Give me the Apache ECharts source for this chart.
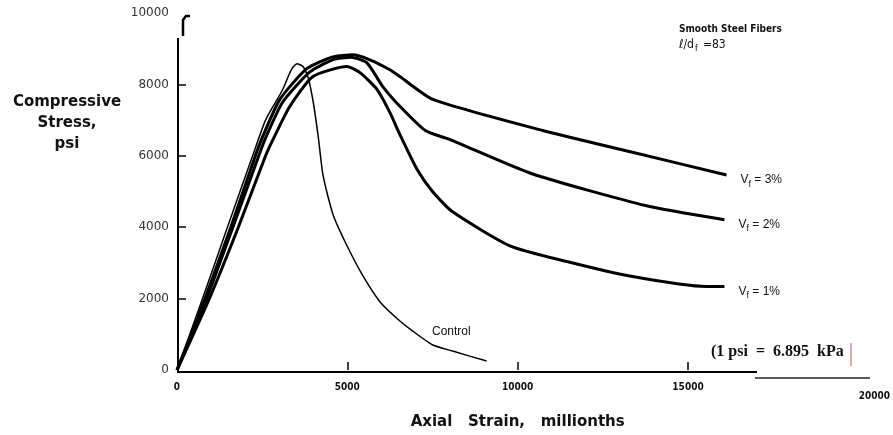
<!DOCTYPE html>
<html>
<head>
<meta charset="utf-8">
<script src="https://cdn.jsdelivr.net/npm/echarts@6/dist/echarts.min.js"></script>
<style>
  html, body { margin: 0; padding: 0; background: #fff; }
  #main { width: 893px; height: 435px; }
</style>
</head>
<body>
<div id="main"></div>
<script>
// strain (millionths), stress (psi)
var controlPts = [[0,0],[750,2000],[1480,4000],[2220,6000],[2600,7000],[3100,7850],[3350,8400],[3520,8580],
  [3700,8500],[3840,8220],[4000,7500],[4150,6500],[4270,5550],[4400,4980],[4600,4300],[4990,3480],
  [5450,2650],[5950,1920],[6450,1450],[6920,1090],[7510,700],[8090,530],[9090,250]];
var vf3Pts = [[0,0],[820,2000],[1580,4000],[2300,6000],[2520,6550],[3020,7580],[3810,8440],[4570,8770],
  [5160,8830],[5660,8690],[6250,8410],[6540,8220],[7510,7580],[10730,6710],[13370,6100],[16130,5460]];
var vf2Pts = [[0,0],[870,2000],[1640,4000],[2400,6000],[2600,6500],[3100,7500],[3900,8350],[4600,8700],
  [5100,8760],[5570,8610],[6040,7940],[6600,7330],[7300,6700],[8000,6460],[10440,5490],[13780,4600],[16070,4210]];
var vf1Pts = [[0,0],[950,2000],[1800,4000],[2600,6000],[2820,6460],[3310,7380],[3990,8220],[4990,8500],
  [5370,8330],[5870,7860],[6250,7210],[6540,6600],[7040,5630],[7500,5000],[8090,4430],[9770,3480],
  [11440,3040],[13370,2620],[15540,2340],[16070,2340]];
var seriesNames = ['3%', '2%', '1%'];
var xTicks = [0, 5000, 10000, 15000, 20000];
var yTicks = [0, 2000, 4000, 6000, 8000, 10000];

var chart = echarts.init(document.getElementById('main'));

function fiberLine(name, pts) {
  return {
    name: name,
    type: 'line',
    data: pts,
    smooth: 0.2,
    symbol: 'none',
    lineStyle: { color: '#000', width: 3 },
    endLabel: {
      show: true,
      distance: 14,
      offset: [0, 5],
      formatter: function () { return '{v|V}{s|f}{v| = ' + name + '}'; },
      rich: {
        v: { fontFamily: 'Liberation Sans', fontSize: 12, color: '#111' },
        s: { fontFamily: 'Liberation Sans', fontSize: 9, color: '#111', padding: [8, 0, 0, 0] }
      }
    }
  };
}

chart.setOption({
  animation: false,
  backgroundColor: '#fff',
  grid: { left: 177, right: 33, top: 13, bottom: 63 },
  xAxis: {
    type: 'value',
    min: xTicks[0],
    max: xTicks[xTicks.length - 1],
    interval: 5000,
    name: 'Axial   Strain,   millionths',
    nameLocation: 'middle',
    nameGap: 45,
    nameTextStyle: { fontFamily: 'DejaVu Sans', fontWeight: 'bold', fontSize: 15, color: '#111' },
    axisLine: { show: false },
    axisTick: { show: true, inside: true, length: 8, customValues: [5000, 10000, 15000], lineStyle: { color: '#000', width: 1.5 } },
    splitLine: { show: false },
    axisLabel: {
      margin: 12,
      fontFamily: 'DejaVu Sans Condensed',
      fontWeight: 'bold',
      fontSize: 10,
      color: '#111',
      formatter: function (v) { return v === 20000 ? '{far|' + v + '}' : String(v); },
      rich: { far: { fontFamily: 'DejaVu Sans Condensed', fontWeight: 'bold', fontSize: 10, color: '#111', padding: [9, 0, 0, 32] } }
    }
  },
  yAxis: {
    type: 'value',
    min: yTicks[0],
    max: yTicks[yTicks.length - 1],
    interval: 2000,
    axisLine: { show: false },
    axisTick: { show: true, inside: true, length: 9, customValues: [2000, 4000, 6000, 8000], lineStyle: { color: '#000', width: 1.5 } },
    splitLine: { show: false },
    axisLabel: {
      margin: 8,
      fontFamily: 'DejaVu Sans',
      fontSize: 12,
      color: '#333',
      formatter: function (v) { return String(v); }
    }
  },
  series: [
    fiberLine(seriesNames[0], vf3Pts),
    fiberLine(seriesNames[1], vf2Pts),
    fiberLine(seriesNames[2], vf1Pts),
    {
      name: 'Control',
      type: 'line',
      data: controlPts,
      smooth: 0.2,
      symbol: 'none',
      lineStyle: { color: '#000', width: 1.5 }
    }
  ],
  graphic: [
    {
      type: 'text', x: 67, y: 92,
      style: {
        text: 'Compressive\nStress,\npsi', align: 'center',
        fontFamily: 'DejaVu Sans', fontWeight: 'bold', fontSize: 15, lineHeight: 21, fill: '#111'
      }
    },
    {
      type: 'text', left: 432, top: 326,
      style: { text: 'Control', fontFamily: 'Liberation Sans', fontSize: 12, fill: '#111' }
    },
    {
      type: 'text', left: 679, top: 24,
      style: {
        text: '{b|Smooth Steel Fibers}\n{l|ℓ/d}{s|f}{l| =83}',
        rich: {
          b: { fontFamily: 'DejaVu Sans Condensed', fontWeight: 'bold', fontSize: 10, fill: '#111', lineHeight: 15 },
          l: { fontFamily: 'DejaVu Sans Condensed', fontSize: 12, fill: '#111', lineHeight: 15 },
          s: { fontFamily: 'Liberation Sans', fontSize: 9, fill: '#111', padding: [8, 2, 0, 1] }
        }
      }
    },
    {
      type: 'text', left: 711, top: 344,
      style: { text: '(1 psi  =  6.895  kPa', fontFamily: 'Liberation Serif', fontWeight: 'bold', fontSize: 16, fill: '#111' }
    },
    { type: 'line', shape: { x1: 851, y1: 343, x2: 851, y2: 366 }, style: { stroke: '#c55', lineWidth: 1 } },
    // axes as printed in the source figure: stress axis stops short, baseline is broken
    { type: 'line', shape: { x1: 178, y1: 38, x2: 178, y2: 373 }, style: { stroke: '#000', lineWidth: 2 } },
    { type: 'polyline', shape: { points: [[183, 36], [183, 20], [186, 16], [190, 16]] }, style: { stroke: '#000', lineWidth: 2.5, fill: null } },
    { type: 'line', shape: { x1: 177, y1: 372, x2: 757, y2: 372 }, style: { stroke: '#000', lineWidth: 2 } },
    { type: 'line', shape: { x1: 755, y1: 378, x2: 870, y2: 378 }, style: { stroke: '#222', lineWidth: 1.5 } }
  ]
});
</script>
</body>
</html>
